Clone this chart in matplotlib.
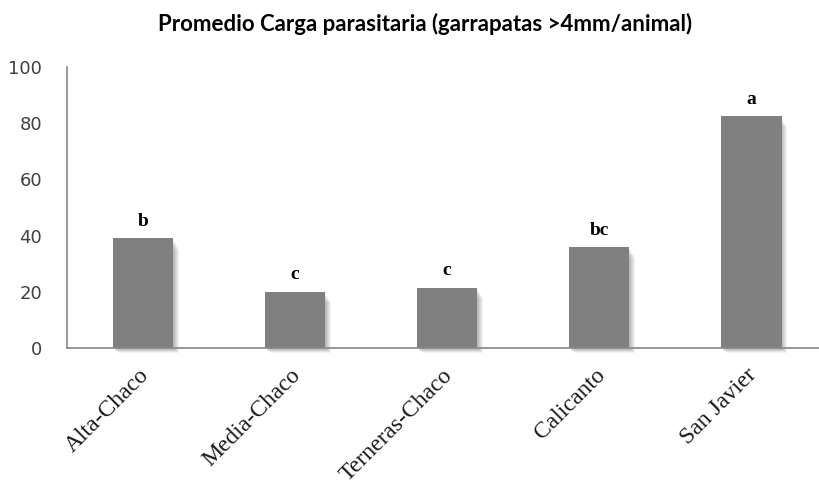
import matplotlib.pyplot as plt
import matplotlib.transforms as mtransforms
import numpy as np

# data
sitios = ['Alta-Chaco', 'Media-Chaco', 'Terneras-Chaco', 'Calicanto', 'San Javier']
carga = [39, 20, 21.5, 36, 82.5]
letras = ['b', 'c', 'c', 'bc', 'a']

fig = plt.figure(figsize=(8.2, 4.83), dpi=100)
ax = fig.add_axes([0.0817, 0.2795, 0.927, 0.5818])

x = np.arange(len(sitios))
ancho = 0.4

# soft shadow to the lower right of each bar
for k in range(6, 0, -1):
    dx = 0.006 * k
    dy = 0.3 * k
    ax.bar(x + dx, np.array(carga) - dy, width=ancho, bottom=-dy,
           color='black', alpha=0.05, linewidth=0, clip_on=False, zorder=1)

ax.bar(x, carga, width=ancho, color='#808080', linewidth=0, zorder=2)

for xi, v, l in zip(x, carga, letras):
    ax.annotate(l, (xi, v), xytext=(0, 6), textcoords='offset points',
                ha='center', va='bottom', fontsize=14, fontweight='bold',
                family='Liberation Serif', color='black')

ax.set_xlim(-0.5, 4.5)
ax.set_ylim(0, 100)
ax.set_yticks([0, 20, 40, 60, 80, 100])
ax.set_xticks(x)
ax.set_xticklabels(sitios, rotation=45, ha='right', va='top',
                   family='Liberation Serif', fontsize=17, color='#1a1a1a')
ax.tick_params(axis='x', length=0, pad=12)
ax.tick_params(axis='y', length=0, pad=18, labelsize=13, labelcolor='#404040')

# nudge the rotated labels so their upper end sits over the bar centre
shift = mtransforms.ScaledTranslation(0.1, 0, fig.dpi_scale_trans)
for lab in ax.get_xticklabels():
    lab.set_transform(lab.get_transform() + shift)

for s in ['top', 'right']:
    ax.spines[s].set_visible(False)
for s in ['left', 'bottom']:
    ax.spines[s].set_color('#888888')
    ax.spines[s].set_linewidth(1.2)
    ax.spines[s].set_zorder(3)

fig.text(0.518, 0.951, 'Promedio Carga parasitaria (garrapatas >4mm/animal)',
         ha='center', va='center', fontsize=16, fontweight='bold', family='Lato')

fig.savefig('out.png', dpi=100)
